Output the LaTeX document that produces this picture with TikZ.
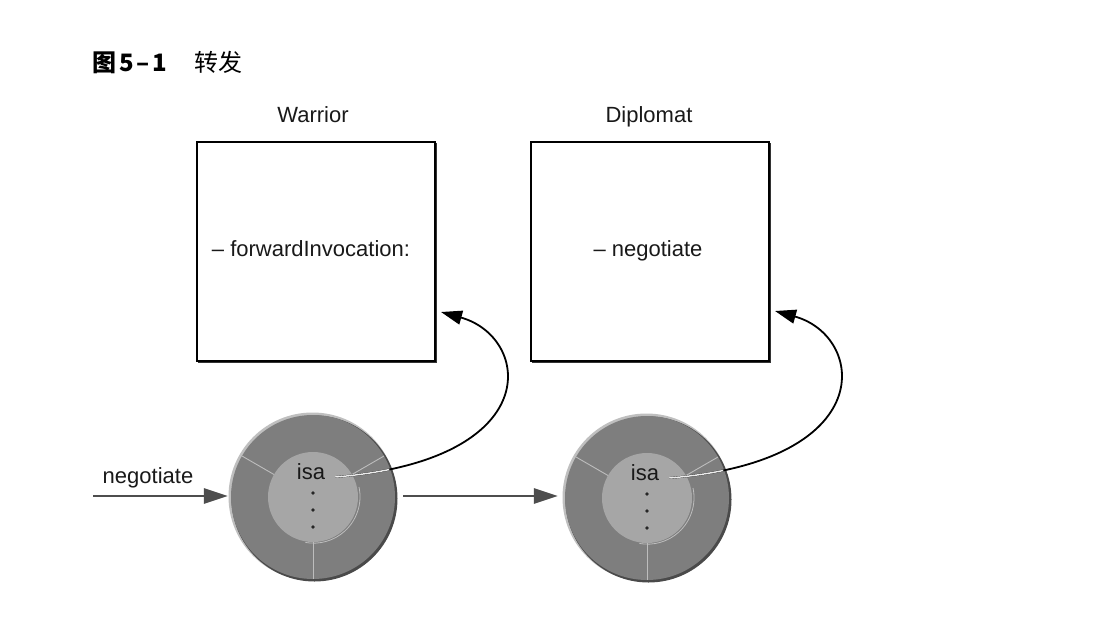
\documentclass[tikz,border=0pt]{standalone}
\usepackage{fontspec}
\setmainfont{Liberation Sans}
\newfontfamily\cjk{Noto Sans CJK SC}
\usetikzlibrary{arrows.meta,calc}
\definecolor{diskdark}{HTML}{7E7E7E}
\definecolor{diskshadow}{HTML}{4A4A4A}
\definecolor{diskinner}{HTML}{A6A6A6}
\definecolor{spokecol}{HTML}{BDBDBD}
\definecolor{arrowgray}{HTML}{4D4D4D}
\begin{document}
\begin{tikzpicture}[x=1pt,y=-1pt,
  lbl/.style={font=\fontsize{22}{26}\selectfont, inner sep=0pt, text=black!90, anchor=base},
  classbox/.style={draw=black, line width=1.5pt, fill=white, minimum width=238pt, minimum height=219pt, inner sep=0pt},
  boxshadow/.style={draw=black!80, line width=1.6pt},
  disk/.style={circle, minimum size=166pt, inner sep=0pt, draw=none},
  spoke/.style={draw=spokecol, line width=0.9pt},
  msgarrow/.style={draw=arrowgray, line width=2.8pt, -{Triangle[length=24pt,width=15pt]}},
  ptr/.style={draw=black, line width=1.8pt, -{Triangle[length=21pt,width=14pt]}},
  ptrcore/.style={draw=white!92!black, line width=1.5pt}
]
\useasboundingbox[fill=white] (0,0) rectangle (1106,624);

% title
\node[anchor=west, inner sep=0pt, font=\cjk\fontsize{24}{28}\selectfont] (title) at (92,63)
  {{\bfseries 图\hspace{3pt}5\hspace{3pt}\textendash\hspace{3pt}1}\hspace{27pt}转发};

% class boxes
\draw[boxshadow] (436.5,143) -- (436.5,362.5) -- (198,362.5);
\node[classbox] (warrior) at (316,251.5) {};
\draw[boxshadow] (770.5,143) -- (770.5,362.5) -- (532,362.5);
\node[classbox] (diplomat) at (650,251.5) {};

\node[lbl] (warriorlbl) at (313,122) {Warrior};
\node[lbl] (diplomatlbl) at (649,122) {Diplomat};
\node[lbl] (fwd) at (311,256) {\textendash\ forwardInvocation:};
\node[lbl] (neg) at (648,256) {\textendash\ negotiate};

% objects (disks)
\node[disk] (obj1) at (313,497) {};
\node[disk] (obj2) at (647,498) {};

\foreach \o in {obj1,obj2}{
  \fill[black!25] ($(\o.center)+(-0.5,-0.5)$) circle (84);
  \fill[diskshadow] ($(\o.center)+(1.5,1.5)$) circle (83);
  \fill[diskdark] (\o.center) circle (82);
  \draw[spoke] ($(\o.center)+(-39,-22.5)$) -- ($(\o.center)+(-71,-41)$);
  \draw[spoke] ($(\o.center)+(39,-22.5)$) -- ($(\o.center)+(71,-41)$);
  \draw[spoke] ($(\o.center)+(0,45)$) -- ($(\o.center)+(0,82)$);
  \fill[diskinner] (\o.center) circle (45);
  \draw[spokecol, line width=0.8pt] ($(\o.center)+(46,-10)$) arc[start angle=-12, end angle=100, radius=46.5];
  \fill[black!85] ($(\o.center)+(0,-4)$) circle (1.8);
  \fill[black!85] ($(\o.center)+(0,13)$) circle (1.8);
  \fill[black!85] ($(\o.center)+(0,30)$) circle (1.8);
}

\node[lbl] (isa1) at ($(obj1.center)+(-2,-18)$) {isa};
\node[lbl] (isa2) at ($(obj2.center)+(-2,-18)$) {isa};

% incoming message
\coordinate (msgstart) at (93,496);
\node[lbl] (msglbl) at (148,483) {negotiate};
\draw[msgarrow] (msgstart) -- ([xshift=-2pt]obj1.west |- msgstart);
\draw[msgarrow] ([xshift=7pt]obj1.east |- msgstart) -- ([xshift=-6pt]obj2.west |- msgstart);

% isa pointers
\coordinate (tip1) at (441,312);
\coordinate (tip2) at (775,311);
\draw[ptr] ([xshift=10pt,yshift=2pt]isa1.base east) .. controls +(212,-17) and +(90,25) .. (tip1);
\draw[ptr] ([xshift=10pt,yshift=2pt]isa2.base east) .. controls +(212,-17) and +(90,25) .. (tip2);
\begin{scope}
  \clip (obj1.center) circle (81);
  \draw[ptrcore] ([xshift=10pt,yshift=2pt]isa1.base east) .. controls +(212,-17) and +(90,25) .. (tip1);
\end{scope}
\begin{scope}
  \clip (obj2.center) circle (81);
  \draw[ptrcore] ([xshift=10pt,yshift=2pt]isa2.base east) .. controls +(212,-17) and +(90,25) .. (tip2);
\end{scope}
\end{tikzpicture}
\end{document}
